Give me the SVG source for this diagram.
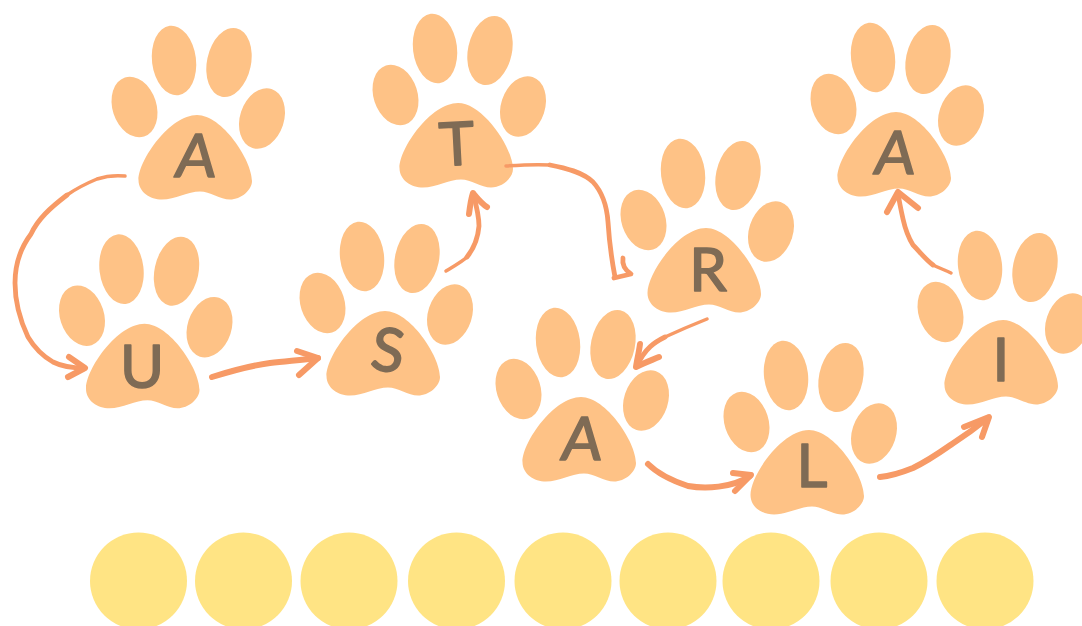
<svg xmlns="http://www.w3.org/2000/svg" xmlns:xlink="http://www.w3.org/1999/xlink" width="1082" height="626" viewBox="0 0 1082 626">
<style>
.paw{fill:#fec286}
.ltr{font-family:"Lato","Liberation Sans",sans-serif;font-size:60px;fill:#7f6b55;stroke:#7f6b55;stroke-width:1.6px;stroke-linejoin:round;text-anchor:middle}
.a{fill:none;stroke:#f79a66;stroke-linecap:round;stroke-linejoin:round;stroke-width:6}
.t{stroke-width:3.500}
.m{stroke-width:4.800}
.dot{fill:#ffe484}
</style>
<defs>
<g id="paw" class="paw">
<ellipse cx="174" cy="60.500" rx="22" ry="35" transform="rotate(-7 174 60.500)"/>
<ellipse cx="229" cy="62.500" rx="22" ry="35" transform="rotate(12 229 62.500)"/>
<ellipse cx="134.500" cy="107" rx="22" ry="31" transform="rotate(-18 134.500 107)"/>
<ellipse cx="262" cy="118.500" rx="22" ry="31" transform="rotate(18 262 118.500)"/>
<path d="M197,115 C170,115 138.500,160 138.500,180 C138.500,192 150,199.500 162,199.500 C175,199.500 188,191.500 200,191.500 C210,191.500 220,199.500 230,199.500 C241,199.500 252,190 252,181 C252,160 222,115 197,115Z"/>
</g>
</defs>
<g id="circles">
<circle class="dot" cx="138.500" cy="581" r="48.500"/>
<circle class="dot" cx="243.500" cy="581" r="48.500"/>
<circle class="dot" cx="349" cy="581" r="48.500"/>
<circle class="dot" cx="456.500" cy="581" r="48.500"/>
<circle class="dot" cx="563" cy="581" r="48.500"/>
<circle class="dot" cx="668" cy="581" r="48.500"/>
<circle class="dot" cx="771" cy="581" r="48.500"/>
<circle class="dot" cx="879" cy="581" r="48.500"/>
<circle class="dot" cx="985" cy="581" r="48.500"/>
</g>
<g id="node-a1"><use xlink:href="#paw" href="#paw"/><text class="ltr" transform="translate(194 177) skewX(-6)">A</text></g>
<g id="node-u"><use xlink:href="#paw" href="#paw" x="-52.500" y="208.700"/><text class="ltr" transform="translate(142 388)">U</text></g>
<g id="node-s"><use xlink:href="#paw" href="#paw" x="188" y="196"/><text class="ltr" transform="translate(385 371) rotate(8)">S</text></g>
<g id="node-t"><use xlink:href="#paw" href="#paw" x="261" y="-12"/><text class="ltr" transform="translate(458 165) rotate(-3)">T</text></g>
<g id="node-r"><use xlink:href="#paw" href="#paw" x="509" y="113"/><text class="ltr" transform="translate(708 291)">R</text></g>
<g id="node-a2"><use xlink:href="#paw" href="#paw" x="384" y="282"/><text class="ltr" transform="translate(580 460) skewX(-6)">A</text></g>
<g id="node-l"><use xlink:href="#paw" href="#paw" x="612" y="315"/><text class="ltr" transform="translate(812 487)">L</text></g>
<g id="node-a3"><use xlink:href="#paw" href="#paw" x="699" y="-3"/><text class="ltr" transform="translate(893 174) skewX(-6)">A</text></g>
<g id="node-i"><use xlink:href="#paw" href="#paw" x="806" y="205"/><text class="ltr" transform="translate(1001 381)">I</text></g>
<g id="connectors">
<path class="a t" d="M125,176 C115,175 106,176 97,179 C85,184 77,188 67,195"/>
<path class="a m" d="M67,195 C50,208 38,219 31,234 C19,250 15,268 15,283 C15,300 19,318 28,337 C37,352 46,358 53,362 C63,367 74,368 84,368"/>
<path class="a" d="M69,357 L85,368 L68,377"/>
<path class="a" d="M212,377 C228,372 248,366 270,363 C288,361 302,360 318,358"/>
<path class="a" d="M297,351 L318,358 L299,375"/>
<path class="a t" d="M446,271 C456,265 463,261 467,257"/>
<path class="a m" d="M467,257 C475,247 478,238 479,226 C479,215 476,204 473,193"/>
<path class="a" d="M469,214 C470,206 471,199 473,193 C478,199 482,204 487,207"/>
<path class="a t" d="M506,166 C520,165 535,164 550,165"/>
<path class="a m" d="M550,165 C566,168 582,172 593,182 C604,194 607,208 608,222 C609,238 611,256 615,277"/>
<path class="a m" d="M623,258 C622,264 625,270 631,274 L614,278"/>
<path class="a t" d="M707,319 C692,325 678,331 665,337"/>
<path class="a m" d="M665,337 C655,342 645,348 637,366"/>
<path class="a" d="M640,344 C639,352 637,360 636,367 C644,363 652,360 659,357"/>
<path class="a" d="M648,464 C656,472 670,480 688,486 C705,489 732,488 750,476"/>
<path class="a" d="M733,473 L751,475 L735,491"/>
<path class="a" d="M880,477 C892,476 903,472 913,468 C928,461 942,451 952,444 C966,435 978,426 988,418"/>
<path class="a" d="M964,427 L989,417 L982,437"/>
<path class="a t" d="M951,273 C945,270 939,268 933,265"/>
<path class="a m" d="M933,265 C925,259 920,252 913,245 C908,237 905,228 903,219 C901,210 899,200 898,193"/>
<path class="a" d="M887,212 L898,192 L918,208"/>
</g>
</svg>
